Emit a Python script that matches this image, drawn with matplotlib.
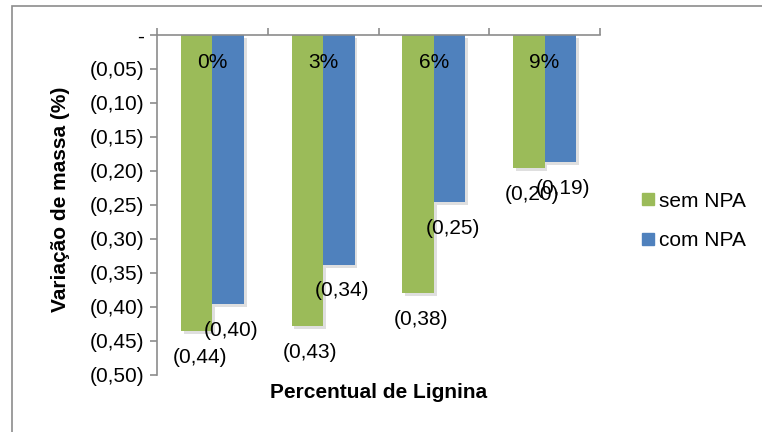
import numpy as np
import matplotlib
matplotlib.use('Agg')
import matplotlib.pyplot as plt
import matplotlib.patheffects as pe
from matplotlib.patches import Patch, Rectangle

plt.rcParams['font.family'] = ['Liberation Sans', 'DejaVu Sans']

# Dados: variação de massa por percentual de lignina
categorias = ['0%', '3%', '6%', '9%']
sem_npa = [-0.436, -0.428, -0.380, -0.196]
com_npa = [-0.396, -0.338, -0.246, -0.187]
yticks = [0, -0.05, -0.10, -0.15, -0.20, -0.25, -0.30, -0.35, -0.40, -0.45, -0.50]

verde = '#9BBB59'
azul = '#4F81BD'
cinza = '#8C8C8C'
fs = 15

fig = plt.figure(figsize=(7.62, 4.32), dpi=100)
W, H = 762, 432
ax = fig.add_axes([157 / W, 1 - 375 / H, (600 - 157) / W, (375 - 35) / H])

# Borda externa da área do gráfico
fig.patches.append(Rectangle((12 / W, -0.1), 1.2, 1 - 6 / H + 0.1,
                             transform=fig.transFigure, fill=False,
                             edgecolor=cinza, linewidth=1.2))

x = np.arange(len(categorias))
w = 0.285
sombra = [pe.SimplePatchShadow(offset=(2, -2), alpha=0.25, shadow_rgbFace='gray'), pe.Normal()]
b1 = ax.bar(x - w / 2, sem_npa, w, color=verde, path_effects=sombra, zorder=2)
b2 = ax.bar(x + w / 2, com_npa, w, color=azul, path_effects=sombra, zorder=2)

# Rótulos de dados abaixo das barras
for barras, vals in ((b1, sem_npa), (b2, com_npa)):
    for r, v in zip(barras, vals):
        txt = '(' + f'{abs(v):.2f}'.replace('.', ',') + ')'
        ax.annotate(txt, (r.get_x() + r.get_width() / 2, v), xytext=(3, -26),
                    textcoords='offset pixels', ha='center', va='center',
                    fontsize=fs, zorder=3)

# Rótulos das categorias junto ao eixo zero
for i, c in enumerate(categorias):
    ax.annotate(c, (i, 0), xytext=(0, -27), textcoords='offset pixels',
                ha='center', va='center', fontsize=fs, zorder=3)

ax.set_xlim(-0.5, len(categorias) - 0.5)
ax.set_ylim(-0.5, 0)
ax.set_yticks(yticks)
ax.set_yticklabels(['-' if t == 0 else '(' + f'{abs(t):.2f}'.replace('.', ',') + ')'
                    for t in yticks], fontsize=fs)

ax.xaxis.tick_top()
ax.set_xticks(np.arange(-0.5, len(categorias), 1.0))
ax.set_xticklabels([])
ax.tick_params(axis='x', length=5, color=cinza, width=1.2)
ax.tick_params(axis='y', length=5, color=cinza, width=1.2, pad=4)

for s in ['right', 'bottom']:
    ax.spines[s].set_visible(False)
for s in ['left', 'top']:
    ax.spines[s].set_color(cinza)
    ax.spines[s].set_linewidth(1.2)

fig.text(60 / W, 1 - 199 / H, 'Variação de massa (%)', fontsize=fs,
         fontweight='bold', rotation=90, ha='center', va='center')
fig.text(378.5 / W, 1 - 393 / H, 'Percentual de Lignina', fontsize=fs,
         fontweight='bold', ha='center', va='center')

handles = [Patch(color=verde, label='sem NPA'), Patch(color=azul, label='com NPA')]
fig.legend(handles=handles, loc='center left', bbox_to_anchor=(634 / W, 1 - 221 / H),
           frameon=False, fontsize=fs, handlelength=0.55, handleheight=0.55,
           handletextpad=0.25, labelspacing=1.0, borderaxespad=0)

fig.savefig('out.png', dpi=100)
